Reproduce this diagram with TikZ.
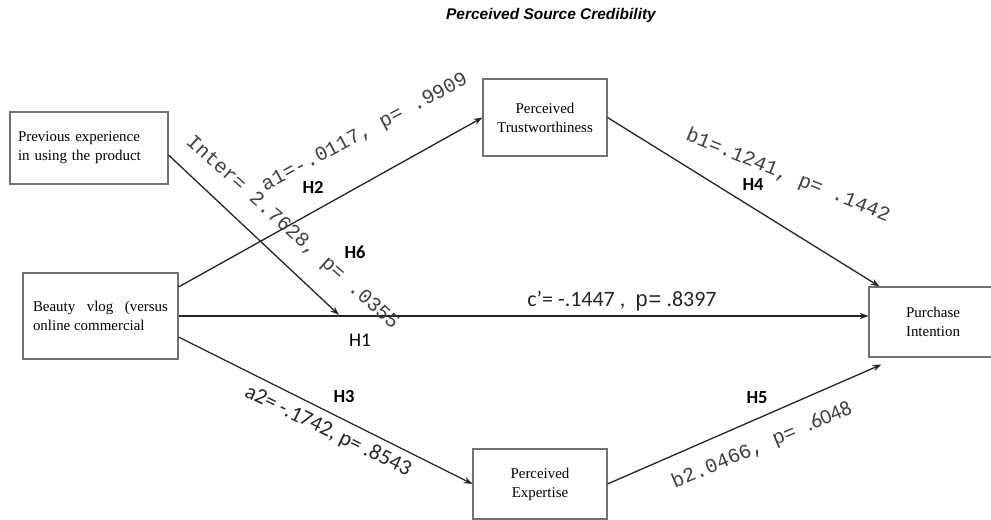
\documentclass[tikz,border=0pt]{standalone}
\usepackage{fontspec}
\setmainfont{Liberation Serif}
\setmonofont{Liberation Mono}
\newfontfamily\arialfont{Liberation Sans}
\newfontfamily\calfont{Carlito}
\usetikzlibrary{arrows.meta,positioning}

\begin{document}
\begin{tikzpicture}[
  x=0.02cm, y=-0.02cm,
  box/.style={draw=black!55, line width=0.6pt, fill=white, inner sep=0pt, font=\fontsize{8.5}{10.8}\selectfont},
  arr/.style={-{Stealth[length=5pt,width=3.6pt]}, line width=0.75pt, black!85},
  hyp/.style={font=\calfont\bfseries\fontsize{10.5}{12}\selectfont},
  est/.style={font=\ttfamily\fontsize{11.5}{13}\selectfont, text=black!75},
  estsans/.style={font=\calfont\fontsize{12.5}{14}\selectfont, text=black!85}
]
  \useasboundingbox (0,0) rectangle (991,520);
  \clip (0,0) rectangle (991,520);

  \node[font=\arialfont\bfseries\itshape\fontsize{8.8}{10}\selectfont] (title) at (551,16) {Perceived Source Credibility};

  % variables
  \node[box, minimum width=3.16cm, minimum height=1.44cm, text width=2.84cm, align=left] (prev) at (89,148) {Previous experience\\in using the product};
  \node[box, minimum width=3.1cm, minimum height=1.72cm, text width=2.7cm, align=justify] (beauty) at (100.5,316) {Beauty vlog (versus online commercial};
  \node[box, minimum width=2.48cm, minimum height=1.54cm, align=center] (trust) at (545,117.5) {Perceived\\Trustworthiness};
  \node[box, minimum width=2.68cm, minimum height=1.4cm, align=center] (expert) at (540,484) {Perceived\\Expertise};
  \node[box, minimum width=2.56cm, minimum height=1.4cm, align=center] (purchase) at (933,322) {Purchase\\Intention};
  \coordinate (tip) at (339,315);

  % paths
  \draw[arr] ([yshift=-0.14cm]prev.east) -- (tip);
  \draw[arr] ([yshift=0.58cm]beauty.east) -- (trust.west);
  \draw[arr] (beauty.east) -- (beauty.east -| purchase.west);
  \draw[arr] ([yshift=-0.42cm]beauty.east) -- (expert.west);
  \draw[arr] (trust.east) -- ([xshift=0.22cm]purchase.north west);
  \draw[arr] (expert.east) -- ([xshift=0.26cm,yshift=-0.14cm]purchase.south west);

  % estimates
  \node[est, rotate=-42] (inter) at (292,233) {Inter= 2.7628, p= .0355};
  \node[est, rotate=28] (esta1) at (365,133) {a1=-.0117, p= .9909};
  \node[est, rotate=-22] (estb1) at (788,176) {b1=.1241, p= .1442};
  \node[estsans, rotate=-26] (esta2) at (328,431) {a2= -.1742, p= .8543};
  \node[est, rotate=23] (estb2) at (762,446) {b2.0466, p= {\calfont\fontsize{12}{14}\selectfont .6048}};
  \node[estsans] (estc) at (622,301) {c’= -.1447 ,\ \ \texttt{p=} .8397};

  % hypotheses
  \node[hyp] (h2) at (313,187) {H2};
  \node[hyp] (h6) at (355,252) {H6};
  \node[font=\calfont\fontsize{11}{13}\selectfont] (h1) at (360,340) {H1};
  \node[hyp] (h3) at (344,397) {H3};
  \node[hyp] (h4) at (753,185) {H4};
  \node[hyp] (h5) at (757,398) {H5};
\end{tikzpicture}
\end{document}
